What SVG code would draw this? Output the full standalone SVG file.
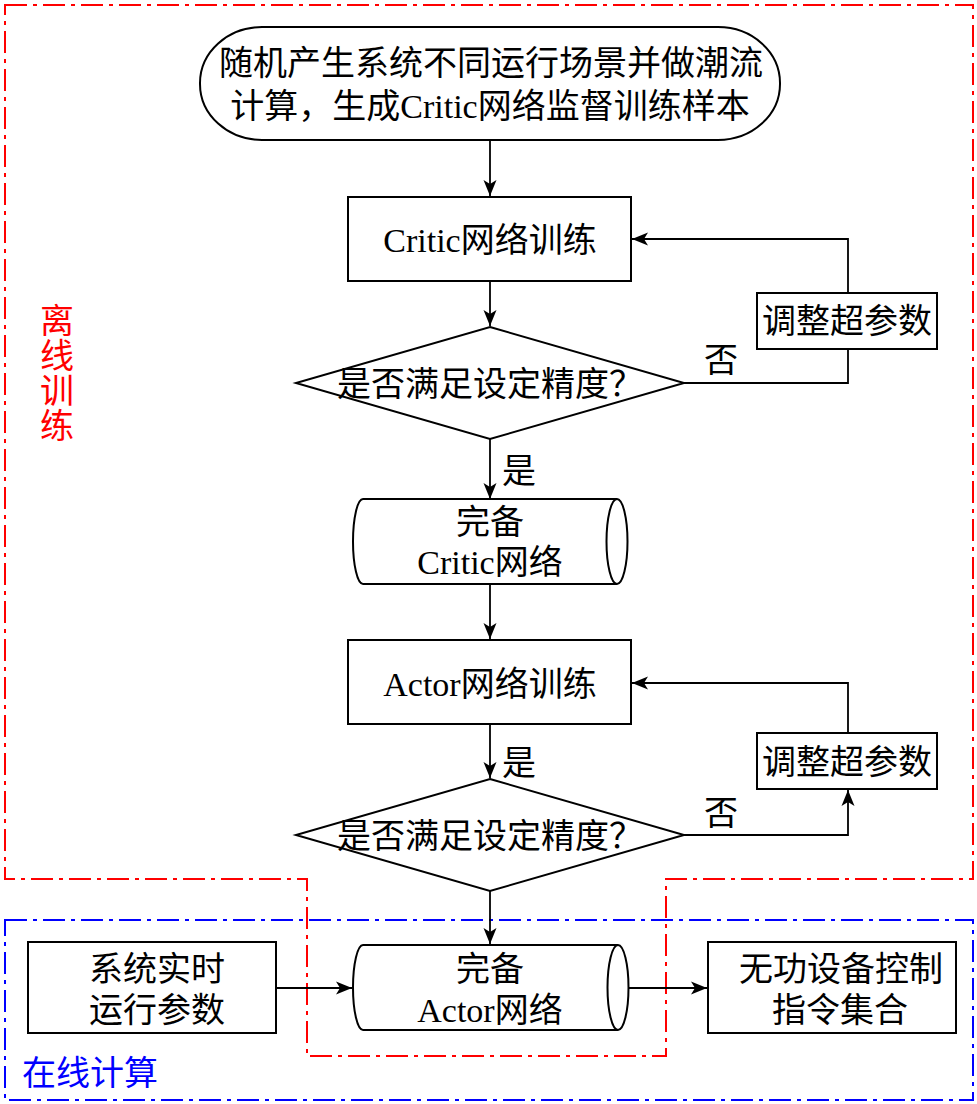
<svg xmlns="http://www.w3.org/2000/svg" width="977" height="1104" viewBox="0 0 977 1104">
<style>
.t{font-family:"Liberation Serif","Noto Sans CJK SC",serif;font-size:34px;fill:#000;text-anchor:middle}
.s{fill:#fff;stroke:#000;stroke-width:2}
.c{fill:none;stroke:#000;stroke-width:1.8}
.red{fill:none;stroke:#ff0000;stroke-width:2;stroke-dasharray:22 6 4 6}
.blue{fill:none;stroke:#0000ff;stroke-width:2;stroke-dasharray:22 6 4 6}
</style>
<defs>
<marker id="ah" markerUnits="userSpaceOnUse" markerWidth="18" markerHeight="14" refX="16" refY="7" orient="auto">
<path d="M0,0.5 L16,7 L0,13.5 L4,7 Z" fill="#000"/>
</marker>
</defs>
<rect width="977" height="1104" fill="#fff"/>
<g id="regions">
<path class="red" d="M5,5 H973 V879 H666 V1056 H307 V879 H5 Z"/>
<rect class="blue" x="5" y="920" width="968" height="180"/>
<text class="t" style="fill:#ff0000" x="57" y="333">离</text>
<text class="t" style="fill:#ff0000" x="57" y="368">线</text>
<text class="t" style="fill:#ff0000" x="57" y="403">训</text>
<text class="t" style="fill:#ff0000" x="57" y="438">练</text>
<text class="t" style="fill:#0000ff;text-anchor:start" x="22" y="1085">在线计算</text>
</g>
<g id="connectors">
<path class="c" d="M490,140 V196" marker-end="url(#ah)"/>
<path class="c" d="M490,281 V326" marker-end="url(#ah)"/>
<path class="c" d="M684,383 H848 V349"/>
<path class="c" d="M848,293 V239 H632" marker-end="url(#ah)"/>
<text class="t" x="721" y="372">否</text>
<path class="c" d="M490,439 V499" marker-end="url(#ah)"/>
<text class="t" x="519" y="483">是</text>
<path class="c" d="M490,584 V639" marker-end="url(#ah)"/>
<path class="c" d="M490,724 V778" marker-end="url(#ah)"/>
<text class="t" x="519" y="775">是</text>
<path class="c" d="M684,835 H848 V790" marker-end="url(#ah)"/>
<path class="c" d="M848,733 V683 H632" marker-end="url(#ah)"/>
<text class="t" x="721" y="825">否</text>
<path class="c" d="M490,891 V944" marker-end="url(#ah)"/>
<path class="c" d="M276,988 H352" marker-end="url(#ah)"/>
<path class="c" d="M628,988 H707" marker-end="url(#ah)"/>
</g>
<g id="start">
<rect class="s" x="200" y="27" width="580" height="113" rx="62" ry="56"/>
<text class="t" x="491" y="75">随机产生系统不同运行场景并做潮流</text>
<text class="t" x="490" y="118">计算，生成Critic网络监督训练样本</text>
</g>
<g id="critic-train">
<rect class="s" x="348" y="197" width="283" height="84"/>
<text class="t" x="490" y="252">Critic网络训练</text>
</g>
<g id="check1">
<path class="s" d="M490,327 L684,383 L490,439 L296,383 Z"/>
<text class="t" x="490" y="396">是否满足设定精度？</text>
</g>
<g id="adjust1">
<rect class="s" x="757" y="293" width="180" height="56"/>
<text class="t" x="847" y="333">调整超参数</text>
</g>
<g id="critic-net">
<path class="s" d="M363,499 H617 A10.5,42.5 0 0 1 617,584 H363 A10,42.5 0 0 1 363,499 Z"/>
<path class="s" style="fill:none" d="M617,499 A10.5,42.5 0 0 0 617,584"/>
<text class="t" x="490" y="534">完备</text>
<text class="t" x="490" y="574">Critic网络</text>
</g>
<g id="actor-train">
<rect class="s" x="348" y="640" width="283" height="84"/>
<text class="t" x="490" y="696">Actor网络训练</text>
</g>
<g id="check2">
<path class="s" d="M490,779 L684,835 L490,891 L296,835 Z"/>
<text class="t" x="490" y="848">是否满足设定精度？</text>
</g>
<g id="adjust2">
<rect class="s" x="757" y="733" width="180" height="56"/>
<text class="t" x="847" y="774">调整超参数</text>
</g>
<g id="actor-net">
<path class="s" d="M363,945 H618 A10.5,42.5 0 0 1 618,1030 H363 A10,42.5 0 0 1 363,945 Z"/>
<path class="s" style="fill:none" d="M618,945 A10.5,42.5 0 0 0 618,1030"/>
<text class="t" x="490" y="981">完备</text>
<text class="t" x="490" y="1022">Actor网络</text>
</g>
<g id="realtime">
<rect class="s" x="28" y="942" width="248" height="91"/>
<text class="t" x="157" y="981">系统实时</text>
<text class="t" x="157" y="1022">运行参数</text>
</g>
<g id="commands">
<rect class="s" x="708" y="942" width="248" height="91"/>
<text class="t" x="841" y="981">无功设备控制</text>
<text class="t" x="840" y="1022">指令集合</text>
</g>
</svg>
